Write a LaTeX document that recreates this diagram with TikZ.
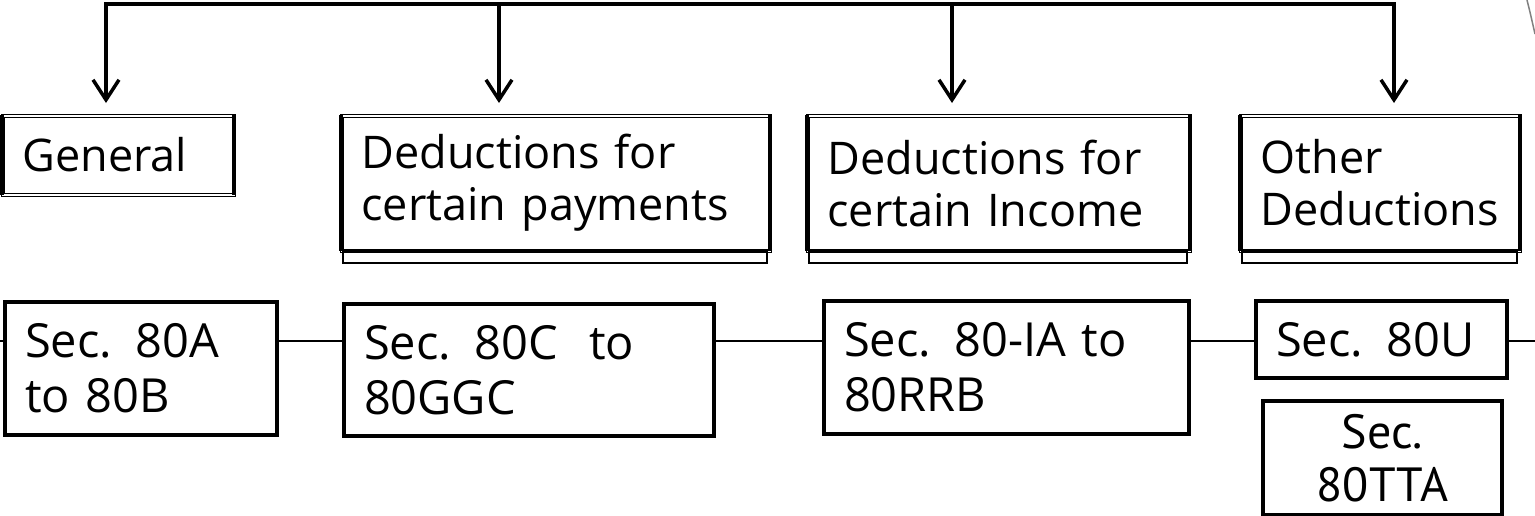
\documentclass[tikz,border=0pt]{standalone}
\usepackage{fontspec}
\setmainfont{Open Sans}
\newfontfamily\narrowfont{PT Sans}
\usetikzlibrary{calc,arrows.meta}

\begin{document}
\begin{tikzpicture}[x=1pt,y=-1pt,
    catbox/.style={draw, double, line width=1pt, double distance=2pt, inner xsep=20pt, inner ysep=0pt,
        align=left, anchor=north west, font=\fontsize{45}{52}\selectfont},
    secbox/.style={draw, line width=4pt, inner xsep=20pt, inner ysep=0pt,
        align=left, anchor=north west, font=\fontsize{47}{55}\selectfont},
    bus/.style={line width=3.5pt, line join=miter},
    tip/.style={-{Straight Barb[length=20pt,width=26pt]}},
    link/.style={line width=1.5pt}]
    \useasboundingbox (0,0) rectangle (1535,515);
    % heads of deductions
    \node[catbox, text width=191pt, minimum height=79pt] (gen) at (2,115) {General};
    \node[catbox, text width=388pt, minimum height=135pt] (pay) at (341,115) {Deductions for\\certain payments};
    \node[catbox, text width=342pt, minimum height=135pt] (inc) at (807,115) {Deductions for\\certain Income};
    \node[catbox, text width=239pt, minimum height=135pt] (oth) at (1240,115) {Other\\Deductions};
    \foreach \b in {gen,pay,inc,oth}
        \draw[line width=4pt] (\b.north west) -- (\b.south west) (\b.north east) -- (\b.south east);
    \foreach \b in {pay,inc,oth}
        \draw[line width=1.5pt] ($(\b.south west)+(2,0)$) rectangle ($(\b.south east)+(-3,12)$);
    % sections
    \node[secbox, text width=232pt, minimum height=133pt] (s1) at (3,300) {Sec. 80A\\to 80B};
    \node[secbox, text width=330pt, minimum height=132pt] (s2) at (342,302) {Sec. 80C~~to\\80GGC};
    \node[secbox, text width=325pt, minimum height=133pt] (s3) at (822,299) {Sec. 80-IA to\\80RRB};
    \node[secbox, text width=211pt, minimum height=77pt] (s4) at (1254,299) {Sec. 80U};
    \node[secbox, text width=199pt, minimum height=114pt, align=center,
        font=\narrowfont\fontsize{48}{53}\selectfont] (s5) at (1261,399) {Sec.\\80TTA};
    % top bus with arrows
    \coordinate (b1) at (106,4);
    \coordinate (b2) at (499,4);
    \coordinate (b3) at (952,4);
    \coordinate (b4) at (1394,4);
    \draw[bus, {Straight Barb[length=20pt,width=26pt]}-{Straight Barb[length=20pt,width=26pt]},
        shorten <=12pt, shorten >=12pt] (b1 |- gen.north) -- (b1) -- (b4) -- (b4 |- oth.north);
    \draw[bus, tip, shorten >=12pt] (b2) -- (b2 |- pay.north);
    \draw[bus, tip, shorten >=12pt] (b3) -- (b3 |- inc.north);
    % row line
    \coordinate (lend) at (0,341);
    \coordinate (rend) at (1535,341);
    \draw[link] (lend) -- (lend -| s1.west);
    \draw[link] (s1.east |- lend) -- (s2.west |- lend);
    \draw[link] (s2.east |- lend) -- (s3.west |- lend);
    \draw[link] (s3.east |- lend) -- (s4.west |- lend);
    \draw[link] (s4.east |- lend) -- (rend);
    % edge of a shape cut off at the corner
    \draw[gray, line width=1.5pt] (1527,0) .. controls (1530,12) .. (1535,34);
\end{tikzpicture}
\end{document}
